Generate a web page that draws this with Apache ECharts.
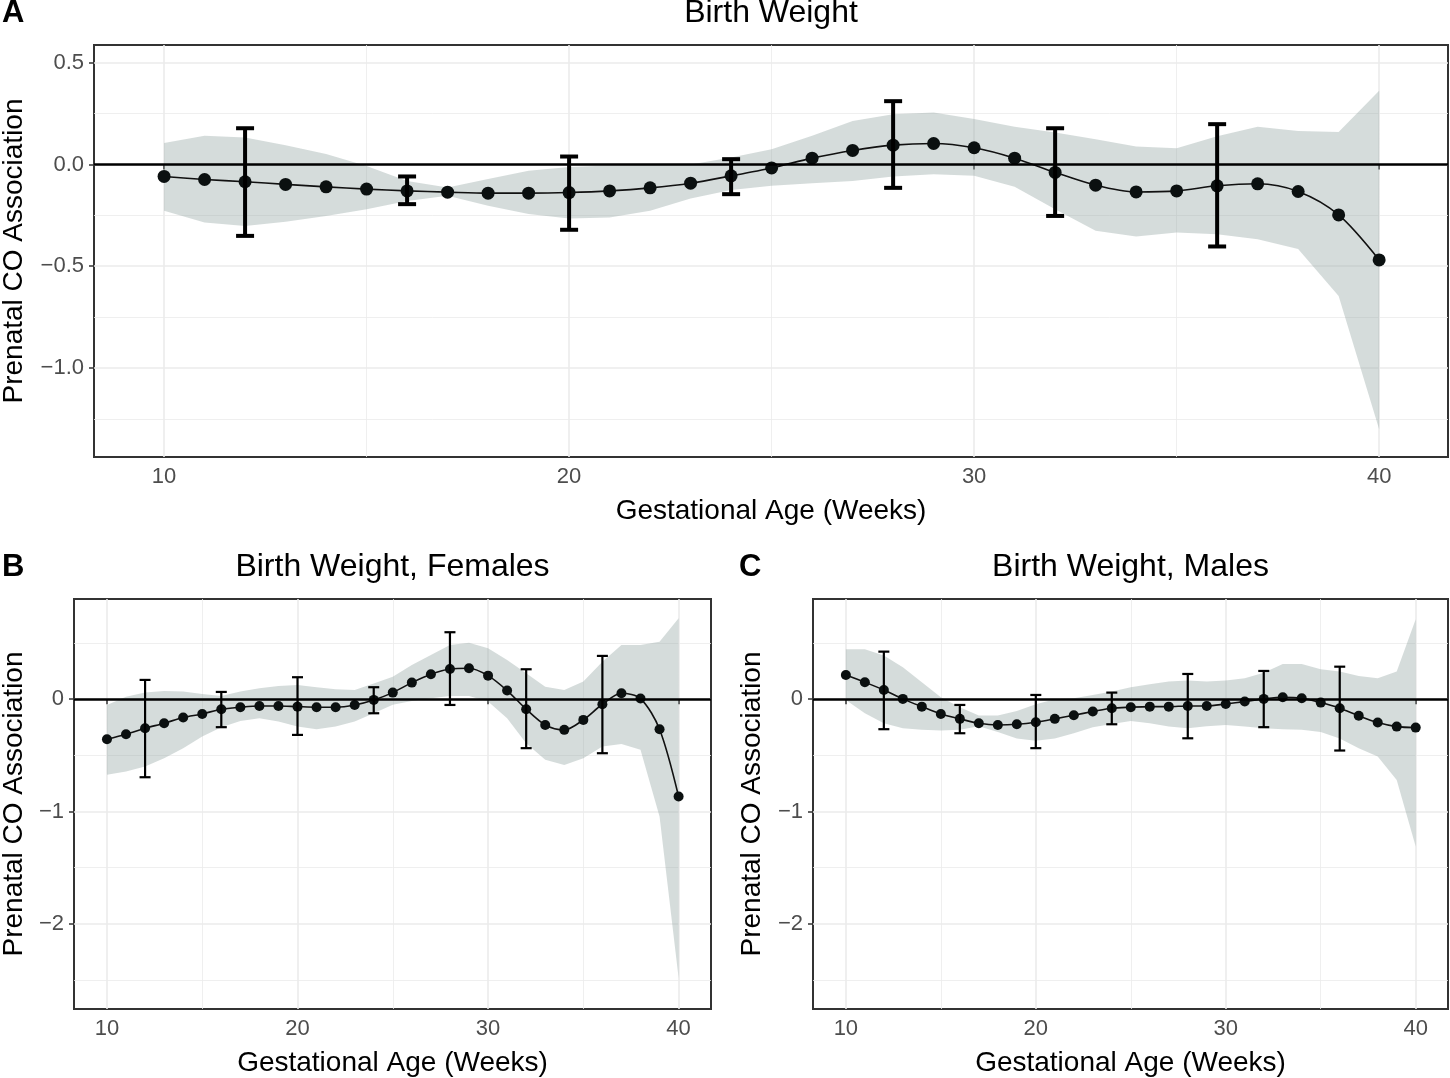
<!DOCTYPE html>
<html><head><meta charset="utf-8">
<script src="https://cdn.jsdelivr.net/npm/echarts@6/dist/echarts.min.js"></script>
<style>html,body{margin:0;padding:0;background:#fff}#c{width:1450px;height:1078px}</style>
</head><body><div id="c"></div>
<script>
// Gestational weeks
const weeks = [10,11,12,13,14,15,16,17,18,19,20,21,22,23,24,25,26,27,28,29,30,31,32,33,34,35,36,37,38,39,40];
const errWeeks = [12,16,20,24,28,32,36];

// Panel A: Birth Weight
const A_est = [-0.059,-0.074,-0.085,-0.098,-0.110,-0.121,-0.130,-0.136,-0.141,-0.141,-0.138,-0.130,-0.115,-0.092,-0.056,-0.017,0.031,0.069,0.095,0.103,0.082,0.031,-0.039,-0.102,-0.135,-0.130,-0.105,-0.095,-0.133,-0.248,-0.469];
const A_upper = [0.106,0.141,0.133,0.095,0.051,-0.007,-0.081,-0.113,-0.072,-0.031,-0.012,-0.005,-0.002,0.0,0.034,0.075,0.141,0.214,0.247,0.255,0.223,0.185,0.157,0.124,0.088,0.080,0.138,0.185,0.165,0.160,0.362];
const A_lower = [-0.228,-0.285,-0.302,-0.282,-0.253,-0.220,-0.179,-0.154,-0.203,-0.244,-0.265,-0.261,-0.228,-0.167,-0.125,-0.105,-0.092,-0.081,-0.059,-0.048,-0.056,-0.110,-0.220,-0.326,-0.354,-0.334,-0.343,-0.367,-0.416,-0.646,-1.301];
const A_errLo = [-0.351,-0.195,-0.321,-0.146,-0.115,-0.253,-0.403];
const A_errHi = [0.178,-0.059,0.039,0.026,0.311,0.178,0.198];

// Panel B: Birth Weight, Females
const B_est = [-0.356,-0.312,-0.259,-0.214,-0.163,-0.131,-0.089,-0.071,-0.060,-0.060,-0.066,-0.071,-0.071,-0.051,-0.006,0.059,0.148,0.223,0.270,0.276,0.210,0.077,-0.089,-0.229,-0.273,-0.184,-0.045,0.053,0.006,-0.267,-0.867];
const B_upper = [-0.051,0.023,0.059,0.074,0.068,0.047,0.029,0.068,0.098,0.118,0.127,0.107,0.089,0.083,0.14,0.2,0.305,0.394,0.484,0.504,0.454,0.349,0.232,0.112,0.083,0.157,0.335,0.484,0.484,0.513,0.721];
const B_lower = [-0.674,-0.645,-0.600,-0.526,-0.436,-0.333,-0.249,-0.193,-0.169,-0.199,-0.244,-0.267,-0.244,-0.199,-0.125,-0.05,-0.015,0.009,0.029,0.029,-0.021,-0.169,-0.392,-0.540,-0.585,-0.526,-0.422,-0.398,-0.451,-1.045,-2.484];
const B_errLo = [-0.695,-0.249,-0.318,-0.125,-0.051,-0.436,-0.481];
const B_errHi = [0.172,0.065,0.196,0.107,0.597,0.267,0.386];

// Panel C: Birth Weight, Males
const C_est = [0.216,0.151,0.083,0.003,-0.066,-0.131,-0.175,-0.214,-0.229,-0.223,-0.205,-0.175,-0.142,-0.110,-0.080,-0.071,-0.066,-0.066,-0.060,-0.060,-0.042,-0.021,0.003,0.018,0.009,-0.030,-0.080,-0.148,-0.208,-0.244,-0.253];
const C_upper = [0.445,0.445,0.389,0.285,0.151,0.017,-0.071,-0.145,-0.145,-0.104,-0.045,0.0,0.009,0.038,0.068,0.107,0.134,0.157,0.166,0.157,0.166,0.187,0.237,0.314,0.314,0.267,0.246,0.207,0.187,0.246,0.712];
const C_lower = [-0.006,-0.125,-0.214,-0.259,-0.273,-0.279,-0.273,-0.241,-0.291,-0.350,-0.371,-0.350,-0.303,-0.25,-0.220,-0.193,-0.214,-0.244,-0.259,-0.241,-0.229,-0.244,-0.259,-0.267,-0.273,-0.291,-0.350,-0.436,-0.510,-0.719,-1.312];
const C_errLo = [-0.267,-0.303,-0.436,-0.223,-0.348,-0.249,-0.457];
const C_errHi = [0.424,-0.051,0.038,0.059,0.225,0.252,0.290];

// Tick labels
const xTicks = [10,20,30,40];
const yTicksA = [-1.0,-0.5,0.0,0.5];
const yTicksBC = [-2,-1,0];

const titles = ['Birth Weight','Birth Weight, Females','Birth Weight, Males'];
const tags = ['A','B','C'];
const xName = 'Gestational Age (Weeks)';
const yName = 'Prenatal CO Association';

const FONT = '"Liberation Sans", Arial, Helvetica, sans-serif';
const RIBBON = 'rgba(150,168,165,0.4)';

const panels = [
  {est:A_est, lo:A_lower, hi:A_upper, eLo:A_errLo, eHi:A_errHi,
   grid:{left:94, top:45, width:1354, height:412}, xMin:8.27, xMax:41.7, yMin:-1.4375, yMax:0.587,
   yTicks:yTicksA, fmt:v=>v.toFixed(1).replace('-','\u2212'), dot:13, ebw:4, cap:9, yGap:66},
  {est:B_est, lo:B_lower, hi:B_upper, eLo:B_errLo, eHi:B_errHi,
   grid:{left:74, top:599, width:637, height:410}, xMin:8.27, xMax:41.7, yMin:-2.76, yMax:0.893,
   yTicks:yTicksBC, fmt:v=>String(Math.round(v)).replace('-','\u2212'), dot:10, ebw:2.2, cap:5.5, yGap:46},
  {est:C_est, lo:C_lower, hi:C_upper, eLo:C_errLo, eHi:C_errHi,
   grid:{left:813, top:599, width:635, height:410}, xMin:8.27, xMax:41.7, yMin:-2.76, yMax:0.893,
   yTicks:yTicksBC, fmt:v=>String(Math.round(v)).replace('-','\u2212'), dot:10, ebw:2.2, cap:5.5, yGap:47}
];

function ribbonRender(lo, hi) {
  return function (params, api) {
    if (params.dataIndex !== 0) return;
    const pts = [];
    for (let i = 0; i < weeks.length; i++) pts.push(api.coord([weeks[i], hi[i]]));
    for (let i = weeks.length - 1; i >= 0; i--) pts.push(api.coord([weeks[i], lo[i]]));
    return {type:'polygon', shape:{points:pts}, style:{fill:RIBBON}};
  };
}
function ebRender(halfCap, lw) {
  return function (params, api) {
    const x = api.value(0);
    const pLo = api.coord([x, api.value(1)]);
    const pHi = api.coord([x, api.value(2)]);
    const st = {stroke:'#000', lineWidth:lw};
    return {type:'group', children:[
      {type:'line', shape:{x1:pLo[0], y1:pLo[1], x2:pHi[0], y2:pHi[1]}, style:st},
      {type:'line', shape:{x1:pLo[0]-halfCap, y1:pLo[1], x2:pLo[0]+halfCap, y2:pLo[1]}, style:st},
      {type:'line', shape:{x1:pHi[0]-halfCap, y1:pHi[1], x2:pHi[0]+halfCap, y2:pHi[1]}, style:st}
    ]};
  };
}

const grid = [], xAxis = [], yAxis = [], series = [], graphic = [];
panels.forEach((p, i) => {
  grid.push(Object.assign({show:true, borderColor:'#333', borderWidth:2, backgroundColor:'#fff',
    containLabel:false, outerBoundsMode:'none'}, p.grid));
  xAxis.push({
    gridIndex:i, type:'value', min:p.xMin, max:p.xMax, splitNumber:4,
    axisLine:{show:false},
    axisTick:{show:true, length:5, customValues:xTicks, lineStyle:{color:'#333', width:1.5}},
    axisLabel:{customValues:xTicks, color:'#4d4d4d', fontSize:22, margin:9, fontFamily:FONT},
    splitLine:{show:true, lineStyle:{color:'#ebebeb', width:1.6}},
    minorTick:{show:false, splitNumber:2},
    minorSplitLine:{show:true, lineStyle:{color:'#ebebeb', width:0.8}},
    name:xName, nameLocation:'middle', nameGap:40,
    nameTextStyle:{fontSize:28, color:'#000', fontFamily:FONT}
  });
  yAxis.push({
    gridIndex:i, type:'value', min:p.yMin, max:p.yMax, splitNumber:4,
    axisLine:{show:false},
    axisTick:{show:true, length:5, customValues:p.yTicks, lineStyle:{color:'#333', width:1.5}},
    axisLabel:{customValues:p.yTicks, color:'#4d4d4d', fontSize:22, margin:10, fontFamily:FONT, formatter:p.fmt},
    splitLine:{show:true, lineStyle:{color:'#ebebeb', width:1.6}},
    minorTick:{show:false, splitNumber:2},
    minorSplitLine:{show:true, lineStyle:{color:'#ebebeb', width:0.8}},
    name:yName, nameLocation:'middle', nameGap:p.yGap, nameRotate:90,
    nameTextStyle:{fontSize:28, color:'#000', fontFamily:FONT}
  });
  series.push({
    type:'custom', xAxisIndex:i, yAxisIndex:i, z:2, silent:true,
    data:weeks.map((w, k) => [w, p.lo[k], p.hi[k]]),
    encode:{x:0, y:[1,2]},
    renderItem:ribbonRender(p.lo, p.hi),
    markLine:{silent:true, symbol:'none', label:{show:false}, animation:false,
      lineStyle:{color:'#000', width:2.5, type:'solid'}, data:[{yAxis:0}]}
  });
  series.push({
    type:'line', xAxisIndex:i, yAxisIndex:i, z:3, smooth:0.3,
    data:weeks.map((w, k) => [w, p.est[k]]),
    symbol:'circle', symbolSize:p.dot, showSymbol:true,
    itemStyle:{color:'#0b1010', borderWidth:0},
    lineStyle:{color:'#111', width:1.6}
  });
  series.push({
    type:'custom', xAxisIndex:i, yAxisIndex:i, z:4, silent:true,
    data:errWeeks.map((w, k) => [w, p.eLo[k], p.eHi[k]]),
    encode:{x:0, y:[1,2]},
    renderItem:ebRender(p.cap, p.ebw)
  });
  const cx = p.grid.left + p.grid.width / 2;
  const ty = i === 0 ? 13 : 567;
  graphic.push({type:'text', x:cx, y:ty, style:{text:titles[i], fill:'#000', font:'32px ' + FONT, textAlign:'center', textVerticalAlign:'middle'}});
  graphic.push({type:'text', x:i === 2 ? 739 : 2, y:ty, style:{text:tags[i], fill:'#000', font:'bold 31px ' + FONT, textAlign:'left', textVerticalAlign:'middle'}});
});

const chart = echarts.init(document.getElementById('c'), null, {renderer:'canvas'});
chart.setOption({
  animation:false, backgroundColor:'#fff',
  grid, xAxis, yAxis, series, graphic
});
</script></body></html>
